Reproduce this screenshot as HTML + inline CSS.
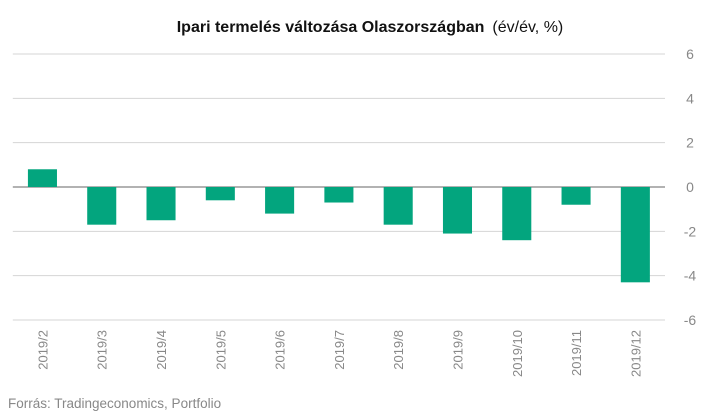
<!DOCTYPE html>
<html><head><meta charset="utf-8"><style>
body{margin:0;background:#fff;width:718px;height:415px;overflow:hidden;font-family:"Liberation Sans",sans-serif}
</style></head><body>
<svg width="718" height="415">
<text x="370" y="32" text-anchor="middle" font-size="16" fill="#111"><tspan font-weight="bold">Ipari termelés változása Olaszországban</tspan><tspan dx="8">(év/év, %)</tspan></text>
<g id="grid"></g><g id="bars"></g><g id="xl"></g>
<text x="8" y="408" font-size="13.5" fill="#888">Forrás: Tradingeconomics, Portfolio</text>
</svg>
<script>
const categories=["2019/2","2019/3","2019/4","2019/5","2019/6","2019/7","2019/8","2019/9","2019/10","2019/11","2019/12"];
const values=[0.8,-1.7,-1.5,-0.6,-1.2,-0.7,-1.7,-2.1,-2.4,-0.8,-4.3];
const yTicks=[6,4,2,0,-2,-4,-6];
const NS="http://www.w3.org/2000/svg";
const plotLeft=12.8,plotRight=665,plotTop=54,plotBot=320,yMax=6,yMin=-6;
const yScale=v=>plotTop+(yMax-v)/(yMax-yMin)*(plotBot-plotTop);
const band=(plotRight-plotLeft)/categories.length;
const xc=i=>plotLeft+band*(i+0.5);
function mk(t,a,p){const e=document.createElementNS(NS,t);for(const k in a)e.setAttribute(k,a[k]);p.appendChild(e);return e;}
const g=document.getElementById('grid');
yTicks.forEach(t=>{
  const l=mk('line',{x1:plotLeft,x2:plotRight,y1:yScale(t),y2:yScale(t),stroke:t===0?'#999':'#d4d4d4','stroke-width':t===0?1.5:1},g);
  
  
  const tx=mk('text',{x:690,y:yScale(t)+5,'text-anchor':'middle','font-size':14,fill:'#888'},g);
  tx.textContent=String(t);
  
  
});
const b=document.getElementById('bars'),xl=document.getElementById('xl');
values.forEach((v,i)=>{
  const w=band*0.49;
  const r=mk('rect',{x:xc(i)-w/2,y:Math.min(yScale(v),yScale(0)),width:w,height:Math.abs(yScale(v)-yScale(0)),fill:'#03a57e'},b);
  
  
  const t=mk('text',{x:0,y:0,'text-anchor':'end','font-size':13,fill:'#888',transform:`translate(${xc(i)+5},${yScale(-6)+10}) rotate(-90)`},xl);
  t.textContent=categories[i];
  
  
});
</script>
</body></html>
